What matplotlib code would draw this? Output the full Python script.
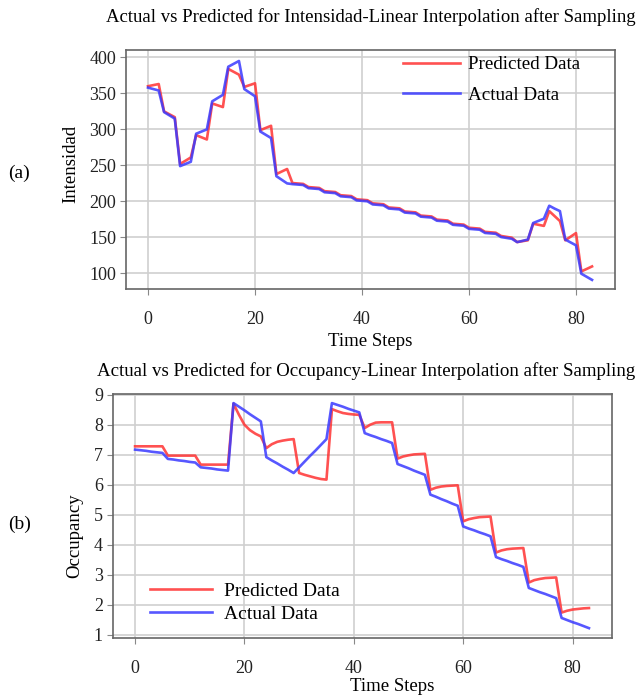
import matplotlib
matplotlib.use("Agg")
import matplotlib.pyplot as plt

plt.rcParams['font.family'] = ['Liberation Serif', 'DejaVu Serif']

time_steps = list(range(84))

intensidad_actual = [
    358, 356, 354, 324, 319.5, 315, 249, 252, 255, 294, 297, 300,
    339, 343.5, 348, 387, 391, 395, 356, 351, 346, 297, 292.5, 288,
    235, 230, 225, 224.0, 223.4, 222.8, 218.4, 217.8, 217.2, 212.7, 212.1, 211.5,
    207.1, 206.5, 205.9, 201.4, 200.8, 200.2, 195.8, 195.2, 194.6, 190.1, 189.5, 188.9,
    184.5, 183.9, 183.3, 178.8, 178.2, 177.6, 173.2, 172.6, 172.0, 167.5, 166.9, 166.3,
    161.9, 161.3, 160.7, 156.2, 155.6, 155.0, 150.5, 149.3, 148.1, 143.5, 145.2, 147,
    170, 173, 176, 194, 190, 186.5, 147, 143, 139, 99.6, 95.3, 91,
]
intensidad_pred = [
    360, 361.5, 363, 325, 321, 317, 252, 256.5, 261, 292, 289, 286,
    336, 333.5, 331, 384, 380, 376, 359, 361.5, 364, 299, 302, 305,
    238, 241.5, 245, 225.5, 224.9, 224.3, 219.9, 219.3, 218.7, 214.2, 213.6, 213.0,
    208.6, 208.0, 207.4, 202.9, 202.3, 201.7, 197.3, 196.7, 196.1, 191.6, 191.0, 190.4,
    186.0, 185.4, 184.8, 180.3, 179.7, 179.1, 174.7, 174.1, 173.5, 169.0, 168.4, 167.8,
    163.4, 162.8, 162.2, 157.7, 157.1, 156.5, 152.0, 150.8, 149.6, 143.5, 144.8, 146,
    169, 167.5, 166, 186.5, 179.6, 172.7, 146, 151, 156, 102.8, 106.2, 109.7,
]

occupancy_actual = [
    7.17, 7.15, 7.13, 7.10, 7.08, 7.06, 6.86, 6.84, 6.81, 6.79, 6.76, 6.74,
    6.58, 6.56, 6.54, 6.51, 6.49, 6.47, 8.72, 8.60, 8.48, 8.35, 8.23, 8.11,
    6.92, 6.81, 6.71, 6.60, 6.50, 6.39, 6.58, 6.77, 6.96, 7.14, 7.33, 7.52,
    8.72, 8.66, 8.60, 8.53, 8.47, 8.41, 7.72, 7.65, 7.59, 7.52, 7.46, 7.39,
    6.69, 6.62, 6.55, 6.47, 6.40, 6.33, 5.67, 5.60, 5.52, 5.45, 5.37, 5.30,
    4.61, 4.54, 4.48, 4.41, 4.35, 4.28, 3.59, 3.52, 3.46, 3.39, 3.33, 3.26,
    2.56, 2.49, 2.42, 2.36, 2.29, 2.22, 1.56, 1.49, 1.42, 1.36, 1.29, 1.22,
]
occupancy_pred = [
    7.28, 7.28, 7.28, 7.28, 7.28, 7.28, 6.97, 6.97, 6.97, 6.97, 6.97, 6.97,
    6.67, 6.67, 6.67, 6.67, 6.67, 6.67, 8.70, 8.33, 8.00, 7.82, 7.70, 7.61,
    7.22, 7.35, 7.43, 7.47, 7.50, 7.52, 6.39, 6.33, 6.28, 6.23, 6.19, 6.17,
    8.52, 8.45, 8.39, 8.36, 8.34, 8.33, 7.89, 8.00, 8.07, 8.08, 8.08, 8.08,
    6.87, 6.94, 6.98, 7.01, 7.02, 7.03, 5.83, 5.90, 5.94, 5.96, 5.97, 5.98,
    4.78, 4.85, 4.89, 4.92, 4.93, 4.94, 3.74, 3.81, 3.85, 3.87, 3.88, 3.89,
    2.74, 2.82, 2.86, 2.89, 2.90, 2.91, 1.74, 1.80, 1.84, 1.86, 1.88, 1.89,
]

x_ticks = [0, 20, 40, 60, 80]
int_ticks = [100, 150, 200, 250, 300, 350, 400]
occ_ticks = [1, 2, 3, 4, 5, 6, 7, 8, 9]

red = '#ff3333'
blue = '#3a3aff'

fig = plt.figure(figsize=(6.4, 6.97), dpi=100)
ax1 = fig.add_axes([0.197, 0.585, 0.764, 0.343])
ax2 = fig.add_axes([0.176, 0.085, 0.781, 0.350])


def style(ax):
    ax.grid(True, color='#cfcfcf', linewidth=1.2)
    ax.set_axisbelow(True)
    for s in ax.spines.values():
        s.set_color('#666666')
        s.set_linewidth(1.2)
    ax.tick_params(colors='#888888', labelcolor='#222222', labelsize=13, length=4)
    ax.tick_params(axis='x', pad=12)
    ax.tick_params(axis='y', pad=3)


ax1.plot(time_steps, intensidad_pred, color=red, lw=1.9, alpha=0.85, label='Predicted Data')
ax1.plot(time_steps, intensidad_actual, color=blue, lw=1.9, alpha=0.85, label='Actual Data')
ax1.set_xticks(x_ticks)
ax1.set_yticks(int_ticks)
ax1.set_xlim(-4.1, 87.3)
ax1.set_ylim(78, 410)
style(ax1)
ax1.set_title('Actual vs Predicted for Intensidad-Linear Interpolation after Sampling',
              fontsize=13.5, pad=20)
ax1.set_xlabel('Time Steps', fontsize=13.5, labelpad=3)
ax1.set_ylabel('Intensidad', fontsize=13.5)
ax1.yaxis.set_label_coords(-0.096, 0.523)
ax1.legend(loc='upper left', bbox_to_anchor=(0.531, 1.047), frameon=False,
           fontsize=13.7, handlelength=3.0, labelspacing=0.7, handletextpad=0.42)

ax2.plot(time_steps, occupancy_pred, color=red, lw=1.9, alpha=0.85, label='Predicted Data')
ax2.plot(time_steps, occupancy_actual, color=blue, lw=1.9, alpha=0.85, label='Actual Data')
ax2.set_xticks(x_ticks)
ax2.set_yticks(occ_ticks)
ax2.set_xlim(-4.1, 87.3)
ax2.set_ylim(0.9, 9.03)
style(ax2)
ax2.set_title('Actual vs Predicted for Occupancy-Linear Interpolation after Sampling',
              fontsize=13.6, pad=13, x=0.507)
ax2.set_xlabel('Time Steps', fontsize=13.5)
ax2.xaxis.set_label_coords(0.56, -0.163)
ax2.set_ylabel('Occupancy', fontsize=13.5)
ax2.yaxis.set_label_coords(-0.059, 0.42)
ax2.legend(loc='lower left', bbox_to_anchor=(0.039, -0.01), frameon=False,
           fontsize=14, handlelength=3.2, labelspacing=0.25, handletextpad=0.65)

fig.text(8 / 640, 1 - 173 / 697, '(a)', fontsize=14, va='center')
fig.text(8 / 640, 1 - 524 / 697, '(b)', fontsize=14, va='center')

fig.savefig('out.png', dpi=100)
